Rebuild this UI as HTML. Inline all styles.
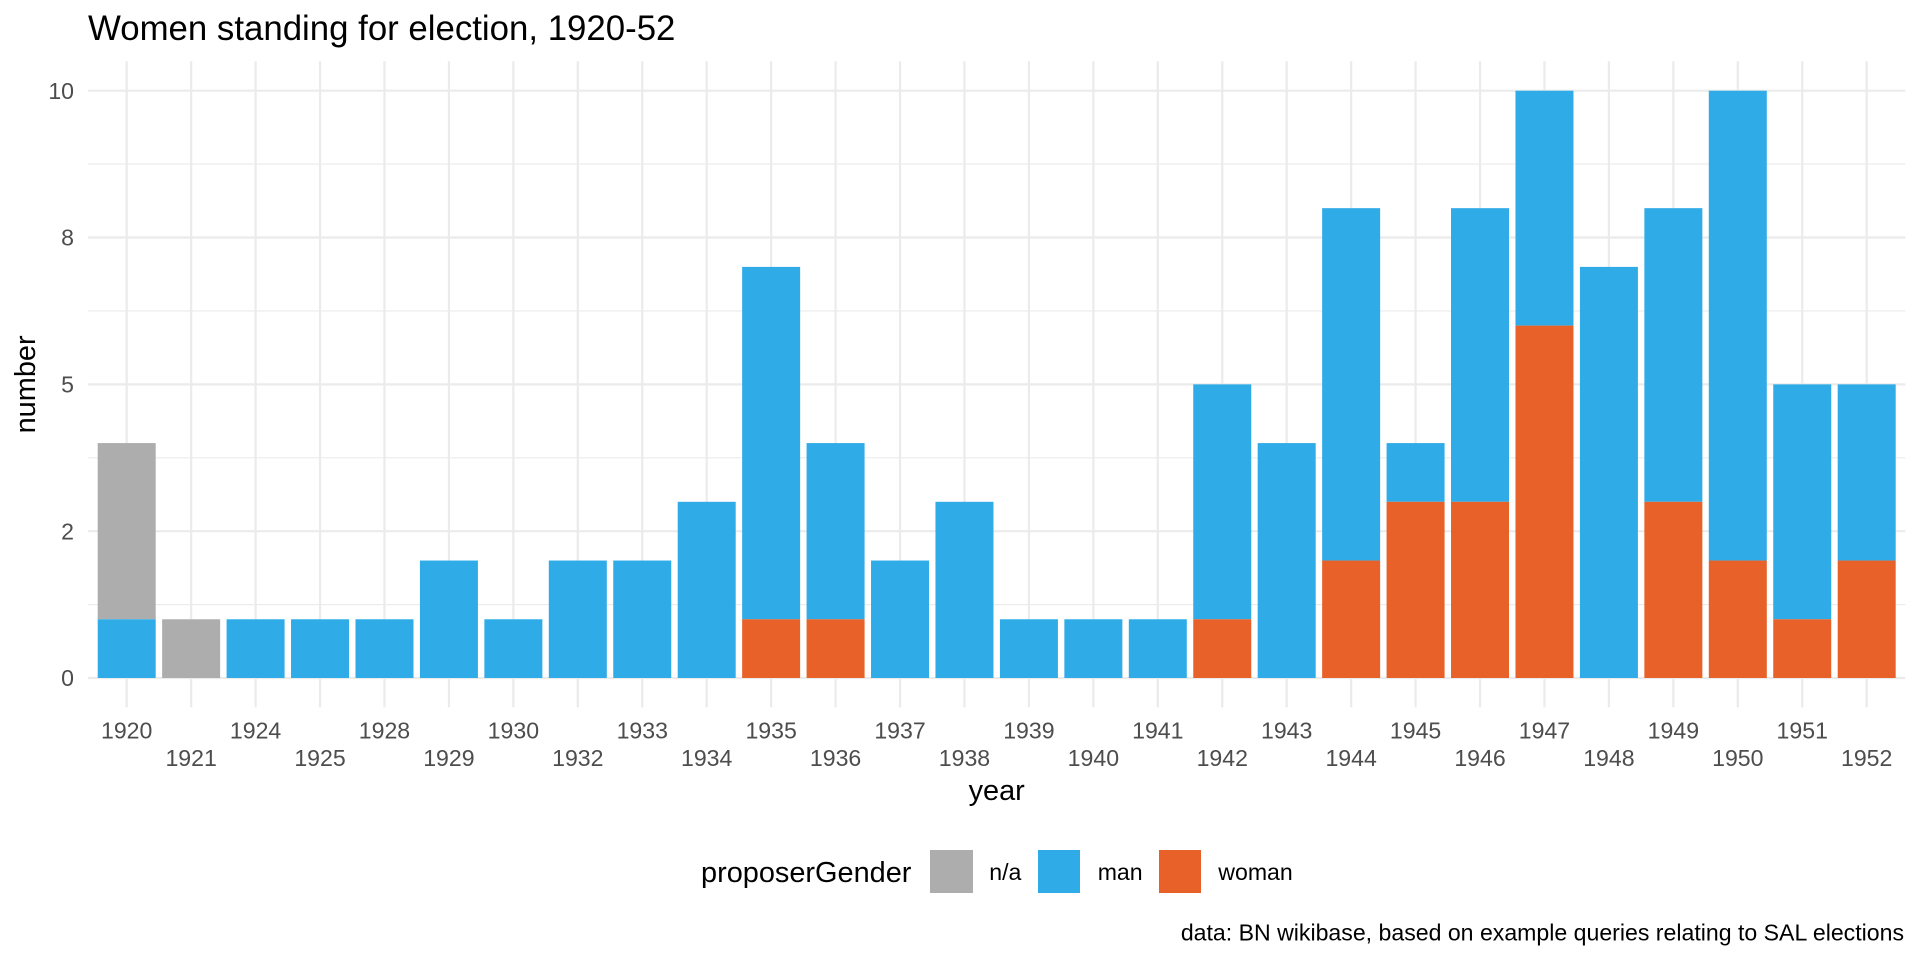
<!DOCTYPE html>
<html>
<head>
<meta charset="utf-8">
<style>
html,body{margin:0;padding:0;background:#fff;}
svg{display:block;font-family:"Liberation Sans",Arial,sans-serif;}
</style>
</head>
<body>
<svg width="1920" height="960" viewBox="0 0 1920 960" xmlns="http://www.w3.org/2000/svg">
<rect width="1920" height="960" fill="#fff"/>
<g stroke="#EBEBEB" stroke-width="1.1">
<line x1="88" x2="1905.3" y1="604.6" y2="604.6"/>
<line x1="88" x2="1905.3" y1="457.8" y2="457.8"/>
<line x1="88" x2="1905.3" y1="310.9" y2="310.9"/>
<line x1="88" x2="1905.3" y1="164.1" y2="164.1"/>
</g>
<g stroke="#EBEBEB" stroke-width="2.2">
<line x1="88" x2="1905.3" y1="678" y2="678"/>
<line x1="88" x2="1905.3" y1="531.2" y2="531.2"/>
<line x1="88" x2="1905.3" y1="384.4" y2="384.4"/>
<line x1="88" x2="1905.3" y1="237.5" y2="237.5"/>
<line x1="88" x2="1905.3" y1="90.7" y2="90.7"/>
</g>
<g stroke="#EBEBEB" stroke-width="2.2">
<line x1="126.70" x2="126.70" y1="61.3" y2="707.4"/>
<line x1="191.14" x2="191.14" y1="61.3" y2="707.4"/>
<line x1="255.59" x2="255.59" y1="61.3" y2="707.4"/>
<line x1="320.03" x2="320.03" y1="61.3" y2="707.4"/>
<line x1="384.48" x2="384.48" y1="61.3" y2="707.4"/>
<line x1="448.92" x2="448.92" y1="61.3" y2="707.4"/>
<line x1="513.36" x2="513.36" y1="61.3" y2="707.4"/>
<line x1="577.81" x2="577.81" y1="61.3" y2="707.4"/>
<line x1="642.25" x2="642.25" y1="61.3" y2="707.4"/>
<line x1="706.70" x2="706.70" y1="61.3" y2="707.4"/>
<line x1="771.14" x2="771.14" y1="61.3" y2="707.4"/>
<line x1="835.58" x2="835.58" y1="61.3" y2="707.4"/>
<line x1="900.03" x2="900.03" y1="61.3" y2="707.4"/>
<line x1="964.47" x2="964.47" y1="61.3" y2="707.4"/>
<line x1="1028.92" x2="1028.92" y1="61.3" y2="707.4"/>
<line x1="1093.36" x2="1093.36" y1="61.3" y2="707.4"/>
<line x1="1157.80" x2="1157.80" y1="61.3" y2="707.4"/>
<line x1="1222.25" x2="1222.25" y1="61.3" y2="707.4"/>
<line x1="1286.69" x2="1286.69" y1="61.3" y2="707.4"/>
<line x1="1351.14" x2="1351.14" y1="61.3" y2="707.4"/>
<line x1="1415.58" x2="1415.58" y1="61.3" y2="707.4"/>
<line x1="1480.02" x2="1480.02" y1="61.3" y2="707.4"/>
<line x1="1544.47" x2="1544.47" y1="61.3" y2="707.4"/>
<line x1="1608.91" x2="1608.91" y1="61.3" y2="707.4"/>
<line x1="1673.36" x2="1673.36" y1="61.3" y2="707.4"/>
<line x1="1737.80" x2="1737.80" y1="61.3" y2="707.4"/>
<line x1="1802.24" x2="1802.24" y1="61.3" y2="707.4"/>
<line x1="1866.69" x2="1866.69" y1="61.3" y2="707.4"/>
</g>
<!-- n/a bars -->
<g fill="#ADADAD">
<rect x="97.70" y="443.08" width="58" height="176.19"/>
<rect x="162.14" y="619.27" width="58" height="58.73"/>
</g>
<!-- man bars -->
<g fill="#2FABE8">
<rect x="97.70" y="619.27" width="58" height="58.73"/>
<rect x="226.59" y="619.27" width="58" height="58.73"/>
<rect x="291.03" y="619.27" width="58" height="58.73"/>
<rect x="355.48" y="619.27" width="58" height="58.73"/>
<rect x="419.92" y="560.54" width="58" height="117.46"/>
<rect x="484.36" y="619.27" width="58" height="58.73"/>
<rect x="548.81" y="560.54" width="58" height="117.46"/>
<rect x="613.25" y="560.54" width="58" height="117.46"/>
<rect x="677.70" y="501.81" width="58" height="176.19"/>
<rect x="742.14" y="266.89" width="58" height="352.38"/>
<rect x="806.58" y="443.08" width="58" height="176.19"/>
<rect x="871.03" y="560.54" width="58" height="117.46"/>
<rect x="935.47" y="501.81" width="58" height="176.19"/>
<rect x="999.92" y="619.27" width="58" height="58.73"/>
<rect x="1064.36" y="619.27" width="58" height="58.73"/>
<rect x="1128.80" y="619.27" width="58" height="58.73"/>
<rect x="1193.25" y="384.35" width="58" height="234.92"/>
<rect x="1257.69" y="443.08" width="58" height="234.92"/>
<rect x="1322.14" y="208.16" width="58" height="352.38"/>
<rect x="1386.58" y="443.08" width="58" height="58.73"/>
<rect x="1451.02" y="208.16" width="58" height="293.65"/>
<rect x="1515.47" y="90.70" width="58" height="234.92"/>
<rect x="1579.91" y="266.89" width="58" height="411.11"/>
<rect x="1644.36" y="208.16" width="58" height="293.65"/>
<rect x="1708.80" y="90.70" width="58" height="469.84"/>
<rect x="1773.24" y="384.35" width="58" height="234.92"/>
<rect x="1837.69" y="384.35" width="58" height="176.19"/>
</g>
<!-- woman bars -->
<g fill="#E86128">
<rect x="742.14" y="619.27" width="58" height="58.73"/>
<rect x="806.58" y="619.27" width="58" height="58.73"/>
<rect x="1193.25" y="619.27" width="58" height="58.73"/>
<rect x="1322.14" y="560.54" width="58" height="117.46"/>
<rect x="1386.58" y="501.81" width="58" height="176.19"/>
<rect x="1451.02" y="501.81" width="58" height="176.19"/>
<rect x="1515.47" y="325.62" width="58" height="352.38"/>
<rect x="1644.36" y="501.81" width="58" height="176.19"/>
<rect x="1708.80" y="560.54" width="58" height="117.46"/>
<rect x="1773.24" y="619.27" width="58" height="58.73"/>
<rect x="1837.69" y="560.54" width="58" height="117.46"/>
</g>
<!-- x labels -->
<g font-size="23.1" fill="#4D4D4D" text-anchor="middle">
<text x="126.70" y="738.3">1920</text>
<text x="191.14" y="766">1921</text>
<text x="255.59" y="738.3">1924</text>
<text x="320.03" y="766">1925</text>
<text x="384.48" y="738.3">1928</text>
<text x="448.92" y="766">1929</text>
<text x="513.36" y="738.3">1930</text>
<text x="577.81" y="766">1932</text>
<text x="642.25" y="738.3">1933</text>
<text x="706.70" y="766">1934</text>
<text x="771.14" y="738.3">1935</text>
<text x="835.58" y="766">1936</text>
<text x="900.03" y="738.3">1937</text>
<text x="964.47" y="766">1938</text>
<text x="1028.92" y="738.3">1939</text>
<text x="1093.36" y="766">1940</text>
<text x="1157.80" y="738.3">1941</text>
<text x="1222.25" y="766">1942</text>
<text x="1286.69" y="738.3">1943</text>
<text x="1351.14" y="766">1944</text>
<text x="1415.58" y="738.3">1945</text>
<text x="1480.02" y="766">1946</text>
<text x="1544.47" y="738.3">1947</text>
<text x="1608.91" y="766">1948</text>
<text x="1673.36" y="738.3">1949</text>
<text x="1737.80" y="766">1950</text>
<text x="1802.24" y="738.3">1951</text>
<text x="1866.69" y="766">1952</text>
</g>
<g font-size="23.1" fill="#4D4D4D" text-anchor="end">
<text x="74" y="686.2">0</text>
<text x="74" y="539.4">2</text>
<text x="74" y="392.6">5</text>
<text x="74" y="245.7">8</text>
<text x="74" y="98.9">10</text>
</g>
<text x="88" y="40" font-size="34.8" fill="#000">Women standing for election, 1920-52</text>
<text x="996.7" y="800" font-size="28.9" fill="#000" text-anchor="middle">year</text>
<text transform="translate(35,384.4) rotate(-90)" font-size="28.9" fill="#000" text-anchor="middle">number</text>
<text x="701" y="882" font-size="28.9" fill="#000">proposerGender</text>
<rect x="930" y="850" width="43" height="43" fill="#ADADAD"/>
<text x="989.3" y="880" font-size="23.1" fill="#000">n/a</text>
<rect x="1038" y="850" width="42" height="43" fill="#2FABE8"/>
<text x="1097.7" y="880" font-size="23.1" fill="#000">man</text>
<rect x="1159" y="850" width="42" height="43" fill="#E86128"/>
<text x="1218.3" y="880" font-size="23.1" fill="#000">woman</text>
<text x="1904" y="940.7" font-size="23.1" fill="#000" text-anchor="end">data: BN wikibase, based on example queries relating to SAL elections</text>
</svg>
</body>
</html>
